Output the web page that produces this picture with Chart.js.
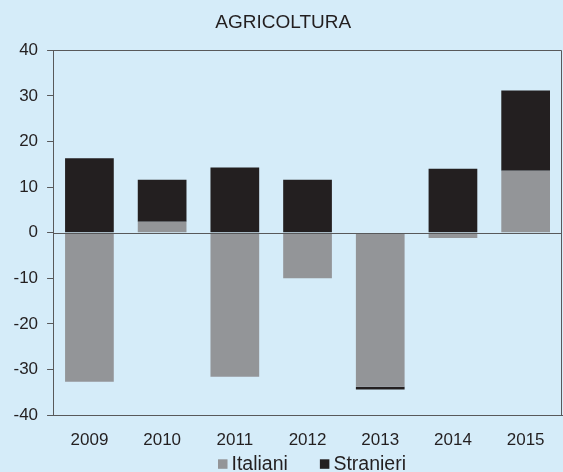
<!DOCTYPE html>
<html>
<head>
<meta charset="utf-8">
<script src="https://cdn.jsdelivr.net/npm/chart.js@4/dist/chart.umd.min.js"></script>
<style>
  html, body { margin: 0; padding: 0; background: #d5ecf9; }
  #wrap { width: 563px; height: 472px; position: relative; overflow: hidden; }
</style>
</head>
<body>
<div id="wrap"><canvas id="c" width="563" height="472"></canvas></div>
<script>
const categories = ['2009', '2010', '2011', '2012', '2013', '2014', '2015'];
const italiani = [-32.7, 2.4, -31.6, -10.0, -33.8, -1.2, 13.6];
const stranieri = [16.3, 9.2, 14.3, 11.6, -0.6, 14.0, 17.6];
const titleText = 'AGRICOLTURA';

const AXIS = '#58595b';
const TEXT = '#231f20';
const FONT = "'Liberation Sans', Arial, sans-serif";

const frame = {
  id: 'frame',
  afterDatasetsDraw(chart) {
    const a = chart.chartArea, c = chart.ctx;
    c.save();
    c.strokeStyle = AXIS;
    c.lineWidth = 1;
    const l = Math.round(a.left) + 0.5, t = Math.round(a.top) + 0.5;
    const r = Math.round(a.right) - 0.5, b = Math.round(a.bottom) + 0.5;
    c.beginPath();
    c.moveTo(l, t); c.lineTo(r, t); c.lineTo(r, b);
    c.stroke();
    const y0 = Math.round(chart.scales.y.getPixelForValue(0)) + 0.5;
    c.beginPath();
    c.moveTo(a.left, y0);
    c.lineTo(a.right, y0);
    c.stroke();
    c.restore();
  }
};

const bottomLegend = {
  id: 'bottomLegend',
  afterDraw(chart) {
    const c = chart.ctx;
    c.save();
    c.font = '19.5px ' + FONT;
    c.textBaseline = 'alphabetic';
    c.textAlign = 'left';
    const box = 9.5, gapText = 4, gapItem = 32;
    const items = chart.data.datasets.map(d => ({ label: d.label, color: d.backgroundColor }));
    let total = 0;
    items.forEach((it, i) => {
      it.w = c.measureText(it.label).width;
      total += box + gapText + it.w + (i < items.length - 1 ? gapItem : 0);
    });
    let x = 312 - total / 2;
    const baseline = 470;
    items.forEach(it => {
      c.fillStyle = it.color;
      c.fillRect(x, 459.3, box, box);
      c.fillStyle = TEXT;
      c.fillText(it.label, x + box + gapText, baseline);
      x += box + gapText + it.w + gapItem;
    });
    c.restore();
  }
};

new Chart(document.getElementById('c'), {
  type: 'bar',
  data: {
    labels: categories,
    datasets: [
      { label: 'Italiani', data: italiani, backgroundColor: '#939598', borderWidth: 0 },
      { label: 'Stranieri', data: stranieri, backgroundColor: '#231f20', borderWidth: 0 }
    ]
  },
  options: {
    responsive: false,
    animation: false,
    devicePixelRatio: 1,
    layout: { padding: { left: 4.5, right: 1, top: 0, bottom: 6.6 } },
    datasets: { bar: { categoryPercentage: 1, barPercentage: 0.67 } },
    plugins: {
      title: {
        display: true, text: titleText, color: TEXT,
        font: { family: FONT, size: 19, weight: 'normal' },
        padding: { top: 11, bottom: 16.5 }
      },
      legend: { display: false },
      tooltip: { enabled: false }
    },
    scales: {
      x: {
        stacked: true,
        grid: { display: false, drawTicks: false },
        border: { display: true, color: AXIS },
        ticks: { color: TEXT, font: { family: FONT, size: 17 }, padding: 15 }
      },
      y: {
        stacked: true,
        min: -40, max: 40,
        grid: { drawOnChartArea: false, drawTicks: true, tickLength: 6, tickColor: AXIS, color: AXIS },
        border: { display: true, color: AXIS },
        ticks: { stepSize: 10, color: TEXT, font: { family: FONT, size: 17 }, padding: 9 }
      }
    }
  },
  plugins: [frame, bottomLegend]
});
</script>
</body>
</html>
